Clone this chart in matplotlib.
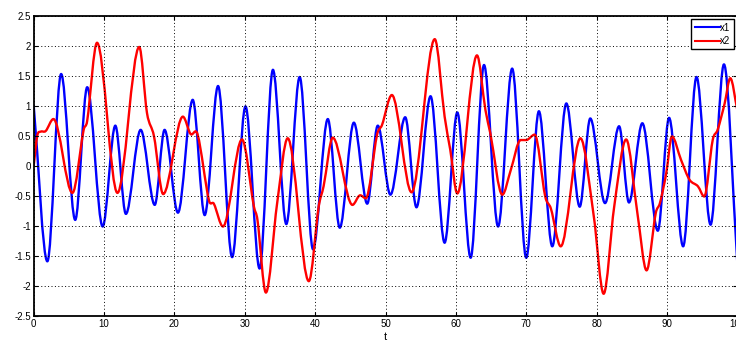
import numpy as np
import matplotlib
matplotlib.use("Agg")
import matplotlib.pyplot as plt
from matplotlib.path import Path
from matplotlib.patches import PathPatch
from matplotlib.lines import Line2D

plt.rcParams["font.family"] = ["Liberation Sans", "DejaVu Sans"]

# x1 turning points (time, value)
t_x1 = [0, 1.94, 3.9, 5.9, 7.6, 9.8, 11.6, 13.1, 15.2, 17.2, 18.6, 20.5, 22.6,
        24.3, 26.2, 28.2, 30.1, 32.1, 34.0, 35.9, 37.8, 39.7, 41.8, 43.5, 45.5,
        47.4, 48.9, 50.7, 52.8, 54.4, 56.4, 58.4, 60.2, 62.1, 64.0, 66.0, 68.0,
        70.0, 71.8, 73.7, 75.7, 77.6, 79.1, 81.2, 83.2, 84.6, 86.5, 88.7, 90.3,
        92.3, 94.2, 96.2, 98.1, 100]
x1 = [1.0, -1.59, 1.53, -0.9, 1.31, -1.01, 0.67, -0.8, 0.6, -0.65, 0.6, -0.78,
      1.1, -0.82, 1.33, -1.52, 0.99, -1.71, 1.6, -0.97, 1.48, -1.39, 0.78,
      -1.03, 0.72, -0.63, 0.67, -0.48, 0.81, -0.69, 1.16, -1.28, 0.89, -1.53,
      1.68, -1.01, 1.62, -1.53, 0.91, -1.34, 1.04, -0.68, 0.79, -0.62, 0.66,
      -0.61, 0.71, -1.08, 0.8, -1.34, 1.48, -0.98, 1.69, -1.62]

# x2 turning points and shoulders (time, value)
t_x2 = [0, 0.5, 1.0, 1.7, 2.8, 5.5, 7.1, 7.6, 9.0, 11.9, 15.0, 16.1, 17.1, 18.4,
        21.2, 22.3, 23.3, 24.9, 25.6, 26.9, 29.6, 31.3, 31.8, 33.0, 34.6, 36.1,
        39.1, 40.5, 41.2, 42.5, 45.3, 46.4, 47.2, 48.8, 49.5, 50.9, 53.7, 57.0,
        58.4, 59.2, 60.2, 63.0, 64.2, 64.9, 66.6, 67.8, 69.2, 70.0, 71.2, 72.7,
        73.5, 74.9, 77.7, 79.6, 81.0, 82.5, 84.2, 85.8, 87.1, 88.4, 89.0, 89.9,
        90.7, 92.0, 93.2, 94.4, 95.3, 96.5, 97.2, 98.2, 99.0, 100]
x2 = [0, 0.5, 0.57, 0.58, 0.78, -0.45, 0.6, 0.75, 2.05, -0.45, 1.98, 0.88, 0.49,
      -0.47, 0.82, 0.53, 0.52, -0.57, -0.63, -1.01, 0.44, -0.68, -0.9, -2.11,
      -0.62, 0.46, -1.92, -0.68, -0.34, 0.47, -0.65, -0.49, -0.54, 0.52, 0.68,
      1.18, -0.44, 2.11, 0.82, 0.27, -0.46, 1.84, 0.93, 0.54, -0.48, -0.07,
      0.43, 0.43, 0.52, -0.51, -0.71, -1.34, 0.46, -0.84, -2.13, -0.68, 0.44,
      -0.79, -1.74, -0.79, -0.62, -0.12, 0.49, 0.1, -0.23, -0.34, -0.51, 0.43,
      0.6, 1.04, 1.46, 0.93]

x_ticks = list(range(0, 101, 10))
y_ticks = [-2.5, -2, -1.5, -1, -0.5, 0, 0.5, 1, 1.5, 2, 2.5]


def smooth_path(t, y):
    """Cubic Bezier path through the points, flat at local extrema."""
    t = np.asarray(t, float)
    y = np.asarray(y, float)
    n = len(t)
    m = np.zeros(n)
    for i in range(n):
        if i == 0:
            m[i] = (y[1] - y[0]) / (t[1] - t[0])
        elif i == n - 1:
            m[i] = (y[-1] - y[-2]) / (t[-1] - t[-2])
        elif (y[i] - y[i - 1]) * (y[i + 1] - y[i]) <= 0:
            m[i] = 0.0
        else:
            m[i] = (y[i + 1] - y[i - 1]) / (t[i + 1] - t[i - 1])
    verts = [(t[0], y[0])]
    codes = [Path.MOVETO]
    for i in range(n - 1):
        h = (t[i + 1] - t[i]) / 3
        verts += [(t[i] + h, y[i] + h * m[i]),
                  (t[i + 1] - h, y[i + 1] - h * m[i + 1]),
                  (t[i + 1], y[i + 1])]
        codes += [Path.CURVE4] * 3
    return Path(verts, codes)


fig = plt.figure(figsize=(7.36, 3.42), dpi=100)
ax = fig.add_axes([0.0458, 0.076, 0.956, 0.878])

for t, y, c in [(t_x1, x1, "#0000ff"), (t_x2, x2, "#ff0000")]:
    ax.add_patch(PathPatch(smooth_path(t, y), fill=False, edgecolor=c,
                           lw=1.7, capstyle="round", joinstyle="round"))

ax.set_xlim(0, 100)
ax.set_ylim(-2.5, 2.5)
ax.set_xticks(x_ticks)
ax.set_yticks(y_ticks)
ax.set_yticklabels([f"{v:g}" for v in y_ticks])
ax.grid(True, color="black", lw=0.7, dashes=(1, 2.5))
ax.tick_params(direction="in", top=True, right=True, length=3,
               labelsize=7, pad=2)
for s in ax.spines.values():
    s.set_linewidth(1.3)
ax.set_xlabel("t", fontsize=8, labelpad=2)

handles = [Line2D([], [], color="#0000ff", lw=1.5),
           Line2D([], [], color="#ff0000", lw=1.5)]
leg = ax.legend(handles, ["x1", "x2"], loc="upper right", fontsize=7,
                fancybox=False, framealpha=1, edgecolor="black",
                handlelength=2.6, handletextpad=0.05, labelspacing=0.35,
                borderpad=0.35, borderaxespad=0.35)
leg.get_frame().set_linewidth(1.0)

fig.savefig("out.png", dpi=100)
